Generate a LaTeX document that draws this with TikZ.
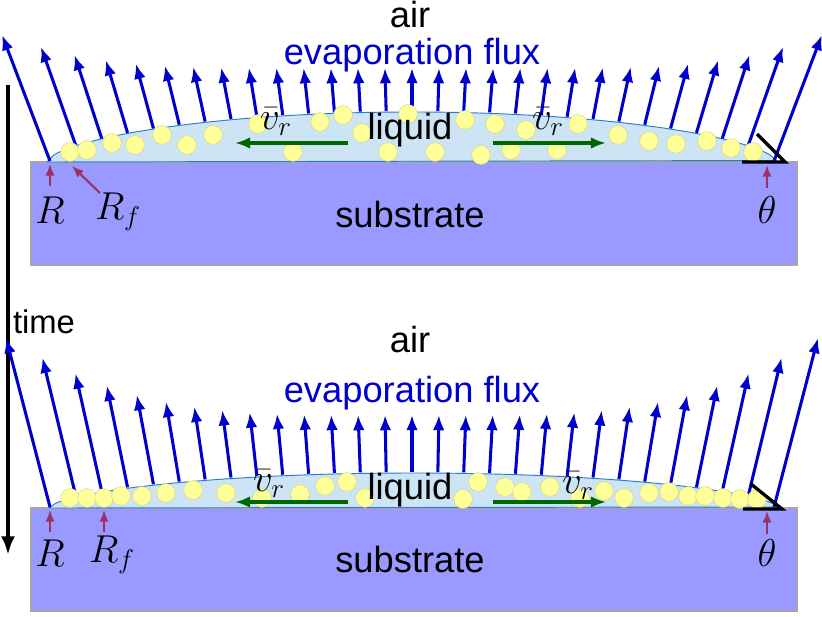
\documentclass[tikz,border=0pt]{standalone}
\usepackage{graphicx}
\usepackage{fontspec}
\setmainfont{Liberation Sans}
\usepackage{tikz}
\usetikzlibrary{positioning,arrows.meta,calc}
\definecolor{subst}{HTML}{9999FF}
\definecolor{dropfill}{HTML}{CCE4F4}
\definecolor{dropline}{HTML}{2A7AD0}
\definecolor{fluxblue}{HTML}{0000CC}
\definecolor{bead}{HTML}{FFFF99}
\definecolor{beadline}{HTML}{D8D890}
\definecolor{flowgreen}{HTML}{006600}
\definecolor{maroon}{HTML}{993366}
\newcommand{\bigmath}[1]{\scalebox{1.6}{$#1$}}

\begin{document}
\begin{tikzpicture}[x=0.03cm, y=-0.03cm,
    every node/.style={font=\fontsize{31}{36}\selectfont, inner sep=0pt},
    fluxarrow/.style={fluxblue, line width=2.6pt, -{Latex[length=13pt,width=10pt]}},
    flowarrow/.style={flowgreen, line width=2.6pt, -{Latex[length=13pt,width=10pt]}},
    markarrow/.style={maroon, line width=1.8pt, -{Latex[length=10pt,width=8pt]}},
    substrate/.style={fill=subst, draw=gray!70, line width=1.2pt},
    liquid/.style={fill=dropfill, draw=dropline, line width=0.8pt},
    particle/.style={circle, fill=bead, draw=beadline, line width=0.5pt, minimum size=16pt},
    wedge/.style={black, line width=2.8pt},
    mathlabel/.style={font=\fontsize{20.74}{24}\selectfont}
]
\useasboundingbox (0,0) rectangle (822,616);

% Time axis
\draw[black, line width=3.2pt, -{Latex[length=16pt,width=12pt]}] (8,85) -- (8,555);
\node[font=\fontsize{28}{32}\selectfont] (time) at (44,322) {time};

% ---------- Top panel ----------
\draw[substrate] (31,162) rectangle (797,265);
\draw[liquid] plot[domain=-1:1, samples=100, smooth] ({412+365*\x}, {162-50*(1-\x*\x)^0.6}) -- cycle;
\foreach \i in {0,...,28} {
    \pgfmathsetmacro{\u}{-1+\i/14}
    \pgfmathsetmacro{\bx}{412+362*\u}
    \pgfmathsetmacro{\by}{162-50*(1-min(\u*\u,1))^0.6-1}
    \pgfmathsetmacro{\ty}{68-33*(\u*\u)^3}
    \pgfmathsetmacro{\tx}{\bx+0.38*\u*(\by-\ty)}
    \draw[fluxarrow] (\bx,\by) -- (\tx,\ty);
}
\foreach \px/\py in {70/152,87/150,112/143,135/145,162/135,187/145,213/135,
    258/124,293/152,320/122,343/115,362/133,388/152,408/114,435/152,465/120,
    481/155,495/124,511/150,526/130,557/150,578/124,618/135,649/141,676/144,
    707/141,731/148,753/152}
    \node[particle] at (\px,\py) {};
\node (air1) at (410,15) {air};
\node[fluxblue] (flux1) at (412,55) {evaporation flux};
\node (liquid1) at (410,130) {liquid};
\node (sub1) at (410,215) {substrate};
\coordinate (fl1) at (348,143);
\coordinate (fr1) at (493,143);
\draw[flowarrow] (fl1) -- ++(-113,0);
\draw[flowarrow] (fr1) -- ++(113,0);
\node[mathlabel] (v1l) at (276,122) {\bigmath{\bar{v}_r}};
\node[mathlabel] (v1r) at (548,122) {\bigmath{\bar{v}_r}};
\draw[wedge] (742,162) -- (785,162) -- (757,134);
\node[mathlabel] (R1) at (50,210) {\bigmath{R}};
\node[mathlabel] (Rf1) at (118,212) {\bigmath{R_f}};
\node[mathlabel] (th1) at (767,210) {\bigmath{\theta}};
\draw[markarrow] (50,186) -- (50,164);
\draw[markarrow] (100,193) -- (72,166);
\draw[markarrow] (767,188) -- (767,165);

% ---------- Bottom panel ----------
\draw[substrate] (31,508) rectangle (797,611);
\draw[liquid] plot[domain=-1:1, samples=100, smooth] ({414+365*\x}, {508-35*(1-\x*\x)^0.6}) -- cycle;
\foreach \i in {0,...,28} {
    \pgfmathsetmacro{\u}{-1+\i/14}
    \pgfmathsetmacro{\bx}{412+362*\u}
    \pgfmathsetmacro{\by}{508-35*(1-min(\u*\u,1))^0.6-1}
    \pgfmathsetmacro{\ty}{415-77*(\u*\u)^2}
    \pgfmathsetmacro{\tx}{\bx+0.26*\u*(\by-\ty)}
    \draw[fluxarrow] (\bx,\by) -- (\tx,\ty);
}
\foreach \px/\py in {70/498,87/498,104/498,121/496,142/496,166/493,193/490,
    226/493,262/498,300/494,325/486,347/482,365/498,463/499,478/482,505/487,
    522/492,550/487,580/498,604/491,624/498,649/493,669/492,688/496,705/496,
    723/498,740/499,757/499}
    \node[particle] at (\px,\py) {};
\node (air2) at (410,340) {air};
\node[fluxblue] (flux2) at (412,393) {evaporation flux};
\node (liquid2) at (410,490) {liquid};
\node (sub2) at (410,560) {substrate};
\coordinate (fl2) at (348,502);
\coordinate (fr2) at (493,502);
\draw[flowarrow] (fl2) -- ++(-113,0);
\draw[flowarrow] (fr2) -- ++(113,0);
\node[mathlabel] (v2l) at (269,484) {\bigmath{\bar{v}_r}};
\node[mathlabel] (v2r) at (578,486) {\bigmath{\bar{v}_r}};
\draw[wedge] (743,509) -- (782,509) -- (751,484);
\node[mathlabel] (R2) at (50,553) {\bigmath{R}};
\node[mathlabel] (Rf2) at (112,555) {\bigmath{R_f}};
\node[mathlabel] (th2) at (767,553) {\bigmath{\theta}};
\draw[markarrow] (50,532) -- (50,510);
\draw[markarrow] (104,532) -- (104,510);
\draw[markarrow] (767,534) -- (767,511);
\end{tikzpicture}
\end{document}
